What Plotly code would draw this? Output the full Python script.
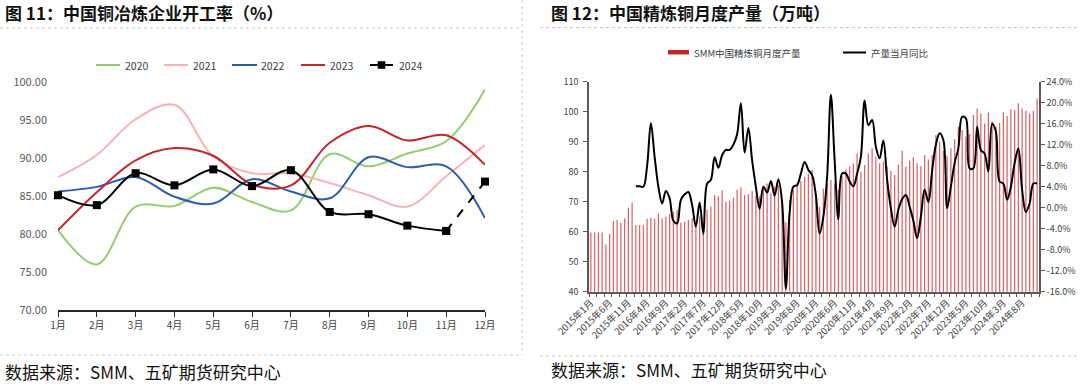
import plotly.graph_objects as go

W, H = 1080, 384

# ---------------- Left chart data: 中国铜冶炼企业开工率（%） ----------------
months = ["1月", "2月", "3月", "4月", "5月", "6月", "7月", "8月", "9月", "10月", "11月", "12月"]
rate_2020 = [80.5, 76.0, 83.6, 83.7, 86.1, 84.2, 83.1, 90.5, 88.9, 90.6, 92.2, 99.0]
rate_2021 = [87.5, 90.4, 95.1, 97.0, 90.2, 88.0, 88.0, 86.7, 85.1, 83.6, 87.6, 91.7]
rate_2022 = [85.6, 86.2, 87.5, 84.9, 84.0, 87.2, 85.6, 84.7, 90.1, 88.8, 88.9, 82.1]
rate_2023 = [80.5, 85.5, 89.7, 91.3, 90.3, 86.5, 86.4, 92.0, 94.2, 92.3, 93.0, 89.1]
rate_2024 = [85.1, 83.8, 88.0, 86.4, 88.5, 86.3, 88.4, 82.9, 82.6, 81.1, 80.4, 86.9]
left_series_names = ["2020", "2021", "2022", "2023", "2024"]
left_colors = ["#92CD6E", "#F5B4B4", "#2E5CA8", "#C0272D", "#000000"]

# ---------------- Right chart data: 中国精炼铜月度产量（万吨） ----------------
years = list(range(2015, 2025))
cat_labels = [f"{y}年{m}月" for y in years for m in range(1, 13)]
output_2015 = [59.7, 59.7, 59.7, 59.7, 55.7, 59.2, 63.6, 63.9, 63.0, 64.4, 68.0, 69.7]
output_2016 = [62.2, 62.2, 62.2, 64.3, 64.7, 64.4, 66.1, 64.4, 65.0, 65.9, 66.7, 67.2]
output_2017 = [63.0, 63.3, 63.9, 64.6, 62.4, 65.0, 62.7, 67.3, 68.4, 72.2, 71.8, 73.9]
output_2018 = [70.0, 70.3, 71.3, 74.0, 74.8, 72.2, 72.5, 73.6, 71.9, 71.7, 74.4, 76.1]
output_2019 = [72.8, 75.0, 75.6, 70.6, 63.1, 70.6, 73.9, 76.1, 76.9, 78.3, 79.4, 80.6]
output_2020 = [72.6, 68.3, 74.4, 76.1, 77.2, 76.1, 73.9, 78.5, 80.8, 81.7, 82.7, 86.1]
output_2021 = [80.0, 82.2, 86.1, 87.8, 85.0, 82.8, 83.3, 81.7, 80.2, 78.9, 82.4, 87.0]
output_2022 = [81.7, 83.7, 84.8, 82.8, 81.9, 85.6, 84.1, 85.6, 92.2, 90.0, 86.9, 85.3]
output_2023 = [87.8, 90.8, 95.0, 93.9, 91.7, 92.6, 98.9, 101.1, 99.4, 96.1, 99.7, 96.9]
output_2024 = [95.0, 96.3, 99.8, 98.6, 100.8, 100.6, 102.8, 101.1, 100.3, 99.4, 100.3, 104.4]
refined_output = (output_2015 + output_2016 + output_2017 + output_2018 + output_2019
                  + output_2020 + output_2021 + output_2022 + output_2023 + output_2024)

# 产量当月同比 (%), from 2016年1月
yoy_2016 = [4.1, 4.1, 4.0, 8.0, 16.1, 9.7, 4.0, 0.8, 3.2, 1.8, -2.5, -3.0]
yoy_2017 = [1.5, 2.5, 3.0, 0.5, -3.6, 1.0, -5.0, 4.6, 5.3, 9.6, 7.6, 10.0]
yoy_2018 = [11.0, 11.0, 12.0, 14.0, 19.9, 10.5, 15.2, 9.0, 4.0, -0.2, 4.0, 2.9]
yoy_2019 = [5.1, 2.3, 5.4, 1.0, -15.4, -1.0, 4.0, 4.3, 6.5, 8.7, 7.2, 6.2]
yoy_2020 = [2.4, -4.9, -1.7, 5.9, 21.5, 9.1, -2.2, 6.5, 6.5, 5.0, 4.1, 6.5]
yoy_2021 = [9.7, 20.4, 15.7, 16.7, 11.6, 9.4, 12.8, 5.3, -0.1, -3.6, -0.4, 1.6]
yoy_2022 = [2.4, 0.2, -2.5, -5.8, -1.7, 3.4, 1.1, 7.0, 12.0, 14.2, 12.9, -0.1]
yoy_2023 = [4.0, 8.5, 11.3, 17.3, 17.0, 7.5, 7.5, 15.4, 11.0, 10.3, 6.9, 16.0]
yoy_2024 = [14.5, 5.0, 4.6, 1.5, 4.0, 8.5, 11.3, 3.4, -0.8, 0.8, 4.6, 4.6]
yoy_pct = yoy_2016 + yoy_2017 + yoy_2018 + yoy_2019 + yoy_2020 + yoy_2021 + yoy_2022 + yoy_2023 + yoy_2024

left_ticks = [40, 50, 60, 70, 80, 90, 100, 110]
right_ticks = [-16, -12, -8, -4, 0, 4, 8, 12, 16, 20, 24]
right_tick_text = [f"{v:.1f}%" for v in right_ticks]

bar_name = "SMM中国精炼铜月度产量"
line_name = "产量当月同比"


def px(x):
    return x / W


def py(y):
    return 1 - y / H


CJK = "Noto Sans CJK SC"
fig = go.Figure()

# ---------- left chart traces ----------
month_x = list(range(1, 13))
for name, vals, col in zip(left_series_names[:4], [rate_2020, rate_2021, rate_2022, rate_2023], left_colors[:4]):
    fig.add_trace(go.Scatter(
        x=month_x, y=vals, name=name, mode="lines",
        line=dict(color=col, width=2, shape="spline", smoothing=1),
        xaxis="x", yaxis="y", showlegend=False, cliponaxis=False))

fig.add_trace(go.Scatter(
    x=month_x[:11], y=rate_2024[:11], name="2024", mode="lines+markers",
    line=dict(color="#000000", width=2, shape="spline", smoothing=1),
    marker=dict(symbol="square", size=8, color="#000000"),
    xaxis="x", yaxis="y", showlegend=False, cliponaxis=False))
fig.add_trace(go.Scatter(
    x=month_x[10:], y=rate_2024[10:], name="2024", mode="lines+markers",
    line=dict(color="#000000", width=2, dash="dash"),
    marker=dict(symbol="square", size=8, color="#000000"),
    xaxis="x", yaxis="y", showlegend=False, cliponaxis=False))

# ---------- right chart traces ----------
idx = list(range(len(cat_labels)))
fig.add_trace(go.Bar(
    x=idx, y=refined_output, name=bar_name,
    marker=dict(color="rgba(200,20,25,0.65)", line=dict(width=0)),
    xaxis="x2", yaxis="y2", showlegend=False))
fig.add_trace(go.Scatter(
    x=idx[12:], y=yoy_pct, name=line_name, mode="lines",
    line=dict(color="#000000", width=2, shape="spline", smoothing=1),
    xaxis="x2", yaxis="y3", showlegend=False))

# ---------- decorations ----------
shapes = []
annotations = []
dot = dict(color="#C8C8C8", width=1, dash="dot")
for (x0, y0, x1, y1) in [(0, 28, 522, 28), (0, 355, 522, 355), (522, 0, 522, 355),
                         (540, 27.5, 1080, 27.5), (540, 356, 1080, 356)]:
    shapes.append(dict(type="line", xref="paper", yref="paper",
                       x0=px(x0), y0=py(y0), x1=px(x1), y1=py(y1), line=dot))

# titles & footers
annotations.append(dict(text="<b>图 11：中国铜冶炼企业开工率（%）</b>", x=px(3), y=py(12),
                        xref="paper", yref="paper", xanchor="left", yanchor="middle",
                        showarrow=False, font=dict(family=CJK, size=17, color="#111111")))
annotations.append(dict(text="<b>图 12：中国精炼铜月度产量（万吨）</b>", x=px(549), y=py(12),
                        xref="paper", yref="paper", xanchor="left", yanchor="middle",
                        showarrow=False, font=dict(family=CJK, size=17, color="#111111")))
for xx, yy in [(3, 371), (549, 369)]:
    annotations.append(dict(text="数据来源：SMM、五矿期货研究中心", x=px(xx), y=py(yy),
                            xref="paper", yref="paper", xanchor="left", yanchor="middle",
                            showarrow=False, font=dict(family=CJK, size=17, color="#111111")))

# left legend
leg_y = 65
leg_items = [(96, 120, 123), (164, 188, 191), (232, 257, 259), (301, 325, 328), (370, 393, 397)]
for (lx0, lx1, tx), name, col in zip(leg_items, left_series_names, left_colors):
    shapes.append(dict(type="line", xref="paper", yref="paper",
                       x0=px(lx0), x1=px(lx1), y0=py(leg_y), y1=py(leg_y),
                       line=dict(color=col, width=2)))
    annotations.append(dict(text=name, x=px(tx), y=py(leg_y), xref="paper", yref="paper",
                            xanchor="left", yanchor="middle", showarrow=False,
                            font=dict(family=CJK, size=10.5, color="#404040")))
mx = (370 + 393) / 2
shapes.append(dict(type="rect", xref="paper", yref="paper",
                   x0=px(mx - 3.8), x1=px(mx + 3.8), y0=py(leg_y - 3.8), y1=py(leg_y + 3.8),
                   fillcolor="#000000", line=dict(width=0)))

# right legend
shapes.append(dict(type="rect", xref="paper", yref="paper",
                   x0=px(668), x1=px(689), y0=py(50), y1=py(54.5),
                   fillcolor="#C0282D", line=dict(width=0)))
annotations.append(dict(text=bar_name, x=px(692), y=py(52.5), xref="paper", yref="paper",
                        xanchor="left", yanchor="middle", showarrow=False,
                        font=dict(family=CJK, size=9.5, color="#404040")))
shapes.append(dict(type="line", xref="paper", yref="paper",
                   x0=px(843), x1=px(866), y0=py(52.5), y1=py(52.5),
                   line=dict(color="#000000", width=2)))
annotations.append(dict(text=line_name, x=px(869), y=py(52.5), xref="paper", yref="paper",
                        xanchor="left", yanchor="middle", showarrow=False,
                        font=dict(family=CJK, size=9.5, color="#404040")))

fig.update_layout(
    width=W, height=H,
    margin=dict(l=0, r=0, t=0, b=0, autoexpand=False),
    paper_bgcolor="white", plot_bgcolor="white",
    font=dict(family=CJK, color="#404040"),
    bargap=0.66,
    showlegend=False,
    hovermode=False,
    shapes=shapes,
    annotations=annotations,
    xaxis=dict(domain=[px(58), px(485)], anchor="y", range=[1, 12], automargin=False,
               tickmode="array", tickvals=month_x, ticktext=months,
               ticks="outside", ticklen=5, tickcolor="#262626", tickwidth=1.2,
               showline=True, linecolor="#262626", linewidth=2,
               showgrid=False, zeroline=False,
               tickfont=dict(family=CJK, size=10, color="#404040")),
    yaxis=dict(domain=[py(310), py(82)], anchor="x", range=[70, 100], automargin=False,
               tick0=70, dtick=5, tickformat=".2f",
               showline=False, showgrid=False, zeroline=False, ticks="",
               ticklabelstandoff=10,
               tickfont=dict(family=CJK, size=11, color="#595959")),
    xaxis2=dict(domain=[px(589), px(1039)], anchor="y2", range=[-0.5, 119.5], automargin=False,
                tickmode="array", tickvals=idx[::5], ticktext=cat_labels[::5],
                tickangle=-45, ticks="",
                minor=dict(ticks="outside", ticklen=4, tick0=-0.5, dtick=2,
                           tickcolor="#595959", showgrid=False),
                showline=True, linecolor="#595959", linewidth=1.5,
                showgrid=False, zeroline=False,
                tickfont=dict(family=CJK, size=9.5, color="#404040")),
    yaxis2=dict(domain=[py(291.7), py(81.7)], anchor="x2", range=[40, 110], automargin=False,
                tickmode="array", tickvals=left_ticks,
                ticks="outside", ticklen=4, tickcolor="#595959",
                showline=True, linecolor="#595959", linewidth=1.5,
                showgrid=False, zeroline=False, ticklabelstandoff=3,
                tickfont=dict(family=CJK, size=9, color="#404040")),
    yaxis3=dict(overlaying="y2", side="right", anchor="x2", range=[-16, 24], automargin=False,
                tickmode="array", tickvals=right_ticks, ticktext=right_tick_text,
                ticks="outside", ticklen=4, tickcolor="#595959",
                showline=True, linecolor="#595959", linewidth=1.5,
                showgrid=False, zeroline=False,
                tickfont=dict(family=CJK, size=9, color="#404040")),
)

fig.write_html("out.html",
               config={"displayModeBar": False},
               post_script="document.body.style.margin='0';document.body.style.overflow='hidden';")
